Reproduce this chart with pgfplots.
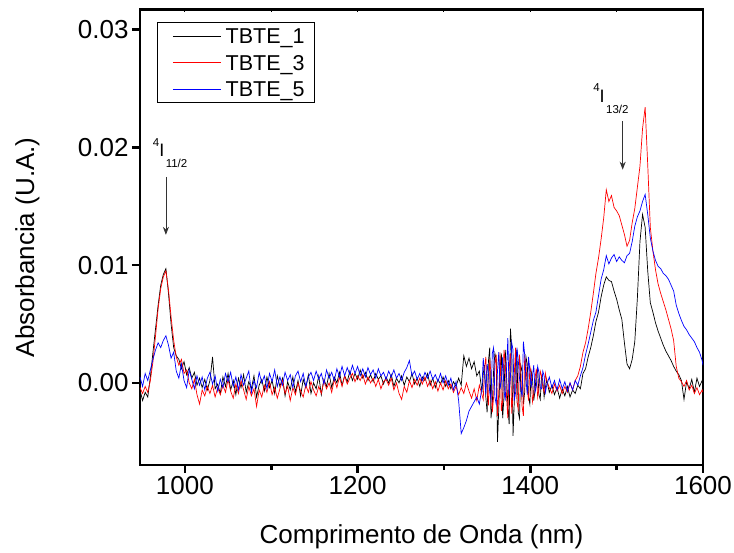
\documentclass[border=0pt]{standalone}
\usepackage{fontspec}
\setmainfont{Liberation Sans}
\usepackage{pgfplots}
\pgfplotsset{compat=1.18}
\usepackage{pgfplotstable}
\usetikzlibrary{arrows.meta}

\pgfplotstableread{
x k r b
948 -0.0006 -0.0004 0.0005
951 -0.0015 -0.0009 -0.0003
954 -0.0008 -0.0003 0.0008
957 -0.0012 -0.0008 0.0002
960 0.0005 0.0002 0.0011
963 0.0026 0.0018 0.0020
966 0.0046 0.0040 0.0028
969 0.0066 0.0063 0.0034
972 0.0083 0.0080 0.0030
975 0.0092 0.0090 0.0036
978 0.0097 0.0095 0.0040
981 0.0076 0.0079 0.0032
984 0.0050 0.0056 0.0021
987 0.0030 0.0036 0.0026
990 0.0023 0.0022 0.0010
993 0.0020 0.0015 0.0004
996 0.0012 0.0020 0.0016
999 0.0018 0.0008 0.0002
1002 0.0007 0.0011 -0.0004
1005 0.0013 0.0000 0.0011
1008 0.0004 -0.0005 0.0003
1011 0.0009 0.0003 -0.0005
1014 -0.0002 -0.0010 0.0006
1017 0.0004 -0.0018 -0.0002
1020 -0.0004 -0.0006 0.0005
1023 0.0003 -0.0011 -0.0006
1026 -0.0006 -0.0003 0.0004
1029 0.0002 -0.0009 0.0009
1032 0.0022 -0.0002 -0.0001
1035 -0.0005 -0.0012 0.0006
1038 -0.0001 -0.0004 -0.0007
1041 -0.0009 -0.0010 0.0003
1044 0.0005 -0.0002 -0.0004
1047 -0.0003 -0.0008 0.0008
1050 0.0008 0.0003 0.0001
1053 -0.0006 -0.0007 0.0009
1056 0.0002 -0.0013 -0.0003
1059 -0.0010 -0.0001 0.0005
1062 0.0004 -0.0009 -0.0006
1065 -0.0004 0.0002 0.0007
1068 0.0007 -0.0006 -0.0002
1071 -0.0008 -0.0014 0.0004
1074 0.0001 -0.0003 0.0010
1077 -0.0005 -0.0011 -0.0008
1080 0.0006 -0.0005 0.0002
1083 -0.0012 -0.0020 -0.0004
1086 -0.0002 -0.0006 0.0009
1089 0.0003 -0.0012 0.0000
1092 -0.0007 -0.0002 0.0006
1095 0.0005 -0.0008 -0.0005
1098 -0.0004 0.0001 0.0008
1101 0.0002 -0.0010 0.0001
1104 -0.0009 -0.0004 0.0011
1107 0.0006 -0.0013 -0.0003
1110 -0.0003 -0.0005 0.0005
1113 0.0004 0.0002 -0.0002
1116 -0.0011 -0.0009 0.0009
1119 0.0001 -0.0003 0.0002
1122 -0.0006 -0.0015 0.0007
1125 0.0005 -0.0004 -0.0004
1128 -0.0008 -0.0010 0.0006
1131 0.0002 0.0000 0.0010
1134 -0.0011 -0.0007 0.0001
1137 0.0003 -0.0012 0.0008
1140 -0.0004 -0.0002 -0.0003
1143 0.0007 -0.0008 0.0005
1146 -0.0009 0.0001 0.0009
1149 0.0000 -0.0006 0.0002
1152 -0.0005 -0.0011 0.0010
1155 0.0006 -0.0003 0.0003
1158 -0.0010 -0.0009 0.0008
1161 0.0003 0.0002 -0.0001
1164 -0.0003 -0.0005 0.0011
1167 0.0008 0.0000 0.0004
1170 -0.0004 -0.0008 0.0009
1173 0.0005 0.0003 0.0002
1176 0.0000 -0.0004 0.0012
1179 0.0009 0.0005 0.0005
1182 -0.0002 -0.0003 0.0014
1185 0.0006 0.0006 0.0006
1188 0.0001 -0.0001 0.0013
1191 0.0010 0.0004 0.0007
1194 0.0002 0.0008 0.0015
1197 0.0008 0.0001 0.0008
1200 0.0003 0.0006 0.0014
1203 0.0011 0.0002 0.0006
1206 0.0004 0.0007 0.0012
1209 0.0009 -0.0001 0.0005
1212 0.0002 0.0005 0.0013
1215 0.0007 0.0000 0.0007
1218 0.0001 0.0004 0.0011
1221 0.0008 -0.0003 0.0004
1224 0.0003 0.0003 0.0012
1227 0.0006 -0.0005 0.0006
1230 -0.0001 0.0001 0.0009
1233 0.0005 0.0003 0.0003
1236 0.0000 -0.0002 0.0010
1239 0.0007 0.0004 0.0005
1242 -0.0003 -0.0006 0.0011
1245 0.0004 0.0000 0.0004
1248 0.0000 -0.0009 0.0008
1251 0.0006 -0.0014 0.0002
1254 -0.0002 -0.0003 0.0009
1257 0.0005 -0.0008 0.0013
1260 0.0001 0.0002 0.0019
1263 0.0008 -0.0004 0.0006
1266 -0.0001 0.0003 0.0010
1269 0.0004 -0.0002 0.0003
1272 -0.0003 0.0004 0.0008
1275 0.0005 -0.0001 0.0002
1278 0.0002 0.0005 0.0009
1281 0.0008 -0.0003 0.0004
1284 -0.0002 0.0002 0.0010
1287 0.0004 -0.0005 0.0003
1290 -0.0004 0.0001 0.0007
1293 0.0003 -0.0007 0.0001
1296 -0.0001 0.0000 0.0008
1299 0.0005 -0.0006 0.0000
1302 -0.0003 0.0002 0.0006
1305 0.0002 -0.0005 -0.0002
1308 -0.0005 -0.0001 0.0004
1311 0.0001 -0.0008 -0.0006
1314 -0.0003 -0.0003 0.0001
1317 0.0004 -0.0010 -0.0015
1320 -0.0002 -0.0004 -0.0043
1323 0.0023 -0.0009 -0.0038
1326 0.0014 0.0000 -0.0032
1329 0.0021 -0.0007 -0.0024
1332 0.0012 -0.0013 -0.0020
1335 0.0018 -0.0005 -0.0016
1338 0.0006 -0.0015 -0.0012
1341 0.0010 -0.0002 -0.0018
1344 -0.0008 -0.0010 -0.0004
1345.5 0.0008 -0.0014 0.0021
1347 0.0015 0.0012 0.0008
1348.5 -0.0012 0.0022 -0.0010
1350 -0.0025 -0.0006 0.0016
1351.5 0.0018 -0.0019 0.0008
1353 0.0030 0.0020 -0.0008
1354.5 -0.0030 0.0008 -0.0014
1356 -0.0018 -0.0025 0.0025
1357.5 0.0010 -0.0012 0.0030
1359 0.0025 0.0015 -0.0012
1360.5 0.0020 0.0024 -0.0018
1362 -0.0050 -0.0028 0.0010
1363.5 -0.0022 -0.0008 0.0026
1365 0.0012 0.0026 -0.0005
1366.5 0.0025 -0.0024 0.0002
1368 -0.0030 -0.0015 0.0022
1369.5 -0.0012 0.0028 -0.0006
1371 0.0028 0.0018 -0.0015
1372.5 0.0006 -0.0012 0.0012
1374 -0.0020 -0.0030 0.0038
1375.5 -0.0035 0.0012 -0.0010
1377 0.0046 0.0025 0.0005
1378.5 0.0030 -0.0026 0.0034
1380 -0.0045 -0.0010 0.0028
1381.5 -0.0015 0.0008 -0.0015
1383 0.0020 0.0030 -0.0008
1384.5 0.0028 -0.0016 0.0030
1386 -0.0025 -0.0022 0.0020
1387.5 -0.0030 0.0024 0.0004
1389 0.0015 0.0010 -0.0005
1390.5 0.0010 -0.0020 -0.0012
1392 -0.0018 -0.0028 0.0035
1393.5 -0.0008 0.0022 0.0024
1395 0.0022 0.0016 0.0003
1396.5 0.0016 -0.0006 -0.0010
1398 -0.0012 -0.0015 0.0022
1399.5 -0.0018 0.0014 0.0010
1401 0.0010 0.0008 -0.0004
1402.5 0.0004 -0.0016 0.0006
1404 -0.0015 -0.0010 0.0015
1405.5 -0.0006 0.0004 -0.0008
1407 0.0008 0.0012 -0.0003
1408.5 0.0012 -0.0012 0.0014
1410 -0.0010 -0.0005 0.0009
1411.5 -0.0014 0.0010 -0.0004
1413 0.0005 0.0006 -0.0005
1414.5 0.0002 -0.0004 0.0010
1416 -0.0012 -0.0008 0.0006
1417.5 -0.0004 0.0008 -0.0008
1419 0.0003 0.0002 -0.0002
1422 -0.0008 -0.0004 0.0005
1425 -0.0002 -0.0009 -0.0004
1428 -0.0010 -0.0001 0.0002
1431 -0.0004 -0.0007 -0.0006
1434 -0.0013 -0.0002 0.0003
1437 -0.0005 -0.0009 -0.0005
1440 -0.0011 -0.0003 0.0001
1443 -0.0003 -0.0008 -0.0007
1446 -0.0012 0.0000 0.0000
1449 -0.0006 -0.0006 -0.0006
1452 -0.0009 0.0002 0.0002
1455 -0.0002 0.0006 -0.0002
1458 -0.0005 0.0014 0.0006
1461 0.0008 0.0026 0.0013
1464 0.0012 0.0034 0.0024
1467 0.0022 0.0046 0.0033
1470 0.0030 0.0060 0.0043
1473 0.0040 0.0076 0.0053
1476 0.0052 0.0093 0.0060
1479 0.0060 0.0106 0.0074
1482 0.0073 0.0122 0.0088
1485 0.0083 0.0140 0.0096
1488 0.0090 0.0164 0.0108
1491 0.0087 0.0154 0.0101
1494 0.0086 0.0159 0.0106
1497 0.0078 0.0149 0.0109
1500 0.0071 0.0146 0.0103
1503 0.0062 0.0142 0.0107
1506 0.0054 0.0134 0.0104
1509 0.0034 0.0126 0.0102
1512 0.0016 0.0116 0.0108
1515 0.0012 0.0121 0.0110
1518 0.0020 0.0136 0.0120
1521 0.0035 0.0148 0.0133
1524 0.0072 0.0166 0.0141
1527 0.0120 0.0184 0.0146
1530 0.0143 0.0216 0.0154
1533 0.0132 0.0234 0.0160
1536 0.0095 0.0185 0.0143
1539 0.0068 0.0132 0.0123
1542 0.0060 0.0112 0.0112
1545 0.0051 0.0096 0.0104
1548 0.0044 0.0084 0.0099
1551 0.0038 0.0076 0.0097
1554 0.0032 0.0069 0.0093
1557 0.0027 0.0062 0.0091
1560 0.0023 0.0054 0.0088
1563 0.0019 0.0046 0.0083
1566 0.0014 0.0036 0.0078
1569 0.0010 0.0014 0.0066
1572 0.0007 0.0004 0.0059
1575 0.0002 0.0001 0.0053
1578 -0.0014 -0.0003 0.0048
1581 0.0001 0.0002 0.0045
1584 -0.0005 -0.0006 0.0041
1587 0.0003 -0.0002 0.0038
1590 -0.0008 -0.0009 0.0035
1593 0.0004 -0.0004 0.0030
1596 -0.0003 -0.0010 0.0026
1599 0.0002 -0.0006 0.0019
1600 0.0000 -0.0008 0.0015
}\spectra

\begin{document}
\begin{tikzpicture}
\begin{axis}[
  name=main,
  at={(0pt,0pt)}, anchor=south west,
  width=563pt, height=455.5pt, scale only axis,
  xmin=948, xmax=1600, ymin=-0.00697, ymax=0.0317,
  xtick={1000,1200,1400,1600},
  xticklabels={1000,1200,1400,1600},
  minor xtick={1100,1300,1500},
  ytick={0,0.01,0.02,0.03},
  yticklabels={0.00,0.01,0.02,0.03},
  scaled y ticks=false,
  tick pos=left,
  tick align=outside,
  major tick length=8pt,
  minor tick length=5pt,
  tick style={line width=2.5pt, black},
  axis line style={line width=2.5pt},
  tick label style={font=\fontsize{26}{26}\selectfont},
  xlabel={Comprimento de Onda (nm)},
  ylabel={Absorbancia (U.A.)},
  label style={font=\fontsize{26}{26}\selectfont},
  xlabel style={at={(axis description cs:0.5,-0.158)}, anchor=center},
  ylabel style={at={(axis description cs:-0.2,0.478)}, anchor=center},
]
\addplot[draw=black, line width=0.7pt] table[x=x,y=k]{\spectra};
\addplot[draw=red, line width=0.7pt] table[x=x,y=r]{\spectra};
\addplot[draw=blue, line width=0.7pt] table[x=x,y=b]{\spectra};

% legend
\draw[black, line width=0.7pt] (axis description cs:0.0314,0.9715) rectangle (axis description cs:0.3096,0.7958);
\draw[black, line width=1pt] (axis description cs:0.0586,0.9414) -- (axis description cs:0.1439,0.9414);
\draw[red, line width=1pt] (axis description cs:0.0586,0.8832) -- (axis description cs:0.1439,0.8832);
\draw[blue, line width=1pt] (axis description cs:0.0586,0.8250) -- (axis description cs:0.1439,0.8250);
\node[anchor=base west, inner sep=0pt, font=\fontsize{21.5}{21.5}\selectfont] at (axis description cs:0.1519,0.9245) {TBTE\_1};
\node[anchor=base west, inner sep=0pt, font=\fontsize{21.5}{21.5}\selectfont] at (axis description cs:0.1519,0.8663) {TBTE\_3};
\node[anchor=base west, inner sep=0pt, font=\fontsize{21.5}{21.5}\selectfont] at (axis description cs:0.1519,0.8081) {TBTE\_5};

\node[anchor=base west, inner sep=0pt, font=\fontsize{18}{18}\selectfont]
  at (axis cs:962.7,0.01918)
  {\raisebox{10.6pt}{\fontsize{11.5}{11.5}\selectfont 4}I\kern1.5pt\raisebox{-11pt}{\fontsize{11.5}{11.5}\selectfont 11/2}};
\node[anchor=base west, inner sep=0pt, font=\fontsize{18}{18}\selectfont]
  at (axis cs:1472.7,0.02381)
  {\raisebox{10.6pt}{\fontsize{11.5}{11.5}\selectfont 4}I\kern1.5pt\raisebox{-11pt}{\fontsize{11.5}{11.5}\selectfont 13/2}};
\draw[-{Stealth[length=8pt,width=6pt]}, line width=0.8pt, black!80]
  (axis cs:978,0.0175) -- (axis cs:978,0.01257);
\draw[-{Stealth[length=8pt,width=6pt]}, line width=0.8pt, black!80]
  (axis cs:1507,0.0222) -- (axis cs:1507,0.0181);
\end{axis}
\begin{axis}[
  at={(0pt,0pt)}, anchor=south west,
  width=563pt, height=455.5pt, scale only axis,
  xmin=948, xmax=1600, ymin=-0.00697, ymax=0.0317,
  axis x line*=top, axis y line=none,
  xtick={1000,1100,...,1600}, xticklabels={},
  tick align=inside, major tick length=3pt,
  tick style={line width=1pt, black},
  axis line style={draw=none},
]
\end{axis}
\pgfresetboundingbox
\path ([shift={(-140pt,-88pt)}]main.south west) rectangle ([shift={(594pt,465pt)}]main.south west);
\end{tikzpicture}
\end{document}
